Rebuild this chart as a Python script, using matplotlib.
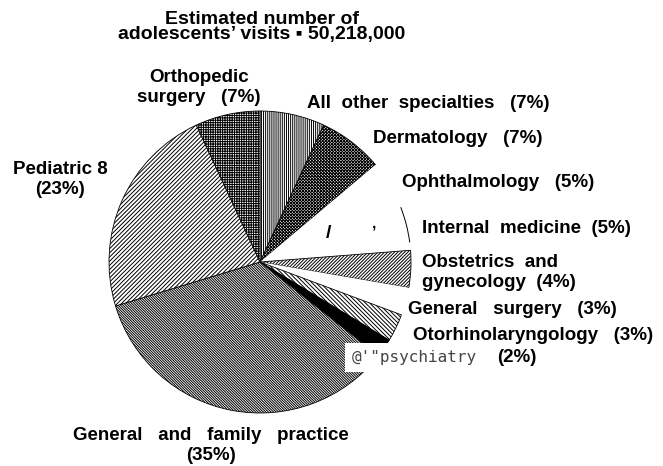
import matplotlib.pyplot as plt
from matplotlib.patches import Arc

# shares of adolescents' visits (%), clockwise from 12 o'clock
specialties = ["All other specialties", "Dermatology", "Ophthalmology", "Internal medicine",
               "Obstetrics and gynecology", "General surgery", "Otorhinolaryngology",
               "Psychiatry", "General and family practice", "Pediatrics", "Orthopedic surgery"]
shares = [7, 7, 5, 5, 4, 3, 3, 2, 35, 23, 7]
label_texts = ["All  other  specialties   (7%)", "Dermatology   (7%)",
               "Ophthalmology   (5%)", "Internal  medicine  (5%)",
               "Obstetrics  and\ngynecology  (4%)", "General   surgery   (3%)",
               "Otorhinolaryngology   (3%)", "(2%)",
               "General   and   family   practice\n(35%)", "Pediatric 8\n(23%)",
               "Orthopedic\nsurgery   (7%)"]
title = "Estimated number of\nadolescents\u2019 visits \u25aa 50,218,000"

W, H = 663, 466
plt.rcParams['font.family'] = ['Liberation Sans', 'DejaVu Sans']
plt.rcParams['hatch.linewidth'] = 0.7

fig = plt.figure(figsize=(W / 100, H / 100), dpi=100)

cx, cy, r = 260, 262, 151
ax = fig.add_axes([(cx - r) / W, 1 - (cy + r) / H, 2 * r / W, 2 * r / H])

hatches = ['|' * 8, 'x' * 11, '', '', '/' * 10, '', '\\' * 8, '',
           '\\' * 13, '/' * 8, '+' * 7]
faces = ['white'] * len(shares)
faces[7] = 'black'
edges = ['black'] * len(shares)
for i in (2, 3, 5):
    edges[i] = 'none'

wedges, _ = ax.pie(shares, startangle=90, counterclock=False, radius=1,
                   wedgeprops=dict(linewidth=0.6))
for w, h, f, e in zip(wedges, hatches, faces, edges):
    w.set_facecolor(f)
    w.set_edgecolor(e)
    w.set_hatch(h)
    if e == 'none':
        w.set_linewidth(0)

# only the outer rim of internal medicine survived in the scan
im = wedges[3]
ax.add_patch(Arc((0, 0), 2, 2, theta1=im.theta1 + 3, theta2=im.theta2 - 1,
                 color='black', lw=0.7))
ax.set_xlim(-1, 1)
ax.set_ylim(-1, 1)
ax.set_aspect('equal')
ax.axis('off')

def px(x, y):
    return x / W, 1 - y / H

fig.text(*px(262, 11), title, ha='center', va='top', fontsize=14, fontweight='bold',
         linespacing=0.82, multialignment='center')

# label anchors: x, baseline of first line, alignment (pixels)
label_pos = [(307, 108, 'left'), (373, 143, 'left'), (402, 187, 'left'), (422, 233, 'left'),
             (422, 267, 'left'), (408, 314, 'left'), (413, 340, 'left'), (497, 362, 'left'),
             (211, 440, 'center'), (60, 174, 'center'), (199, 82, 'center')]
for txt, (x, y, ha) in zip(label_texts, label_pos):
    for k, line in enumerate(txt.split('\n')):
        fig.text(*px(x, y + 20 * k), line, ha=ha, va='baseline', fontsize=13.5,
                 fontweight='bold')

# scanned "psychiatry" word came out in a plain thin face over a white patch
fig.text(*px(352, 362), "@'\"psychiatry", ha='left', va='baseline', fontsize=11.5,
         family='DejaVu Sans Mono', color='#444444',
         bbox=dict(facecolor='white', edgecolor='none', pad=5))

# stray marks from the scan
fig.text(*px(329, 238), "/", ha='center', va='baseline', fontsize=14, fontweight='bold')
fig.text(*px(374, 228), ",", ha='center', va='baseline', fontsize=11, fontweight='bold')

fig.savefig('out.png', dpi=100)
